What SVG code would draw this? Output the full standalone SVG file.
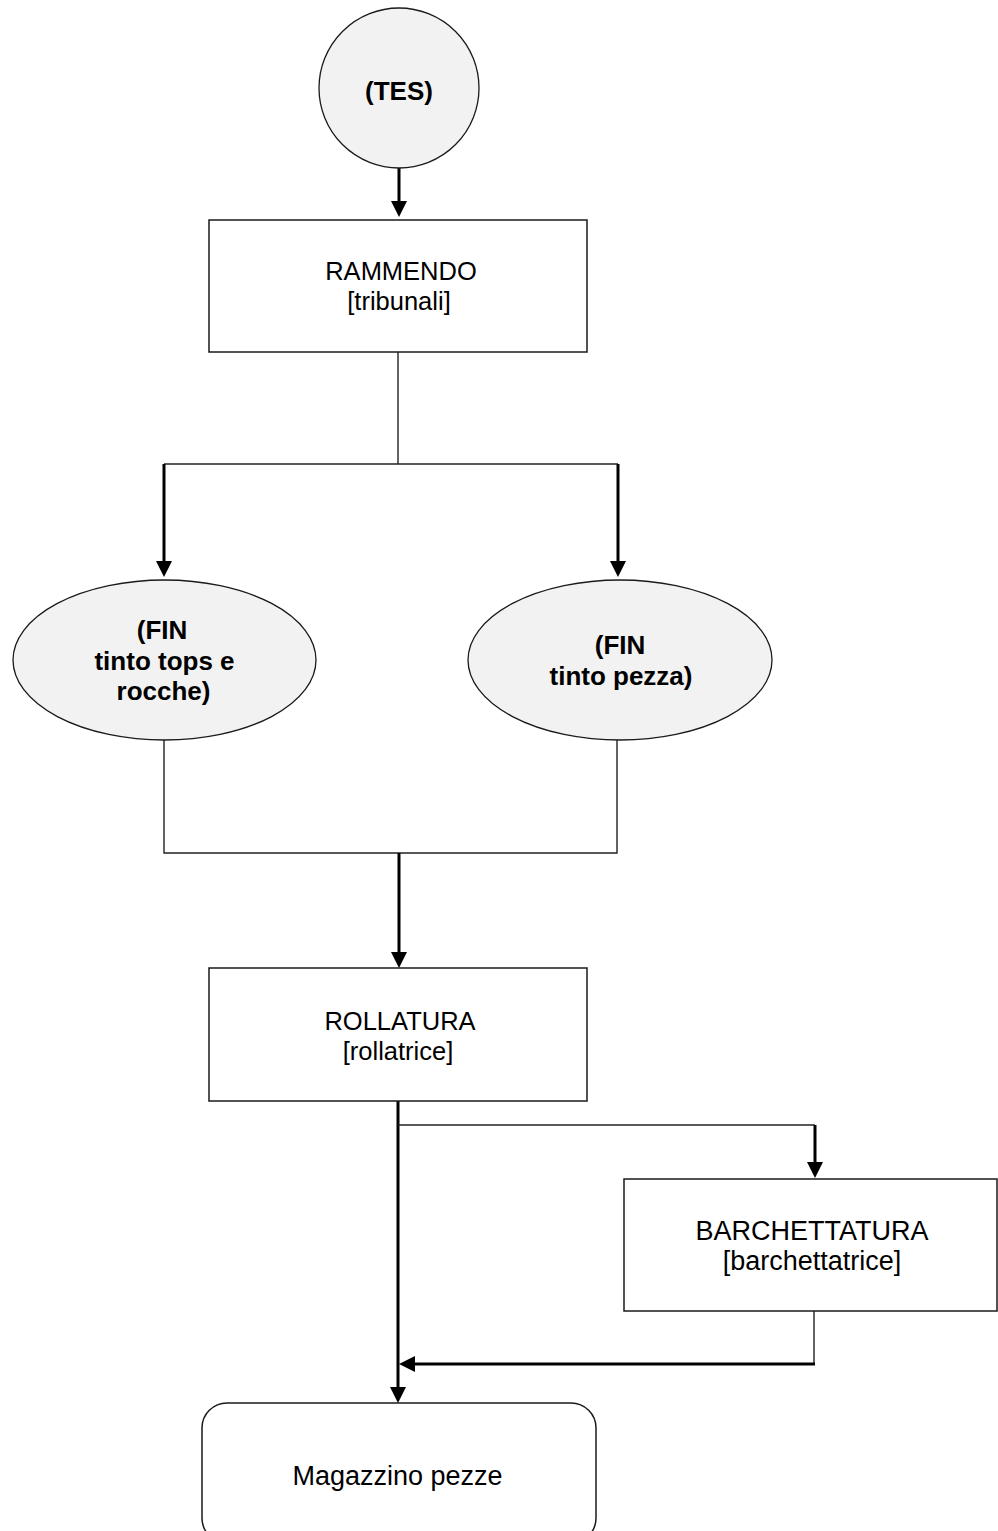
<svg xmlns="http://www.w3.org/2000/svg" width="998" height="1531" viewBox="0 0 998 1531">
  <style>
    .box { fill: #ffffff; stroke: #1a1a1a; stroke-width: 1.5; }
    .term { fill: #f2f2f2; stroke: #1a1a1a; stroke-width: 1.3; }
    .t { font-family: "Liberation Sans", Arial, sans-serif; font-size: 25.5px; fill: #000; text-anchor: middle; }
    .tl { font-size: 27px; }
    .b { font-family: "Liberation Sans", Arial, sans-serif; font-size: 26px; font-weight: bold; fill: #000; text-anchor: middle; }
    .thin { fill: none; stroke: #222; stroke-width: 1.4; }
    .thick { fill: none; stroke: #000; stroke-width: 3; }
  </style>
  <defs>
    <marker id="arr" markerUnits="userSpaceOnUse" markerWidth="16" markerHeight="16" viewBox="0 0 16 16" refX="8" refY="8" orient="auto">
      <path d="M0,0 L16,8 L0,16 Z" fill="#000"/>
    </marker>
  </defs>
  <rect x="0" y="0" width="998" height="1531" fill="#ffffff"/>

  <g id="connectors">
    <path class="thick" d="M399,168 L399,209" marker-end="url(#arr)"/>
    <path class="thin" d="M398,352 L398,464"/>
    <path class="thin" d="M164,464 L618,464"/>
    <path class="thick" d="M164,464 L164,569" marker-end="url(#arr)"/>
    <path class="thick" d="M618,464 L618,569" marker-end="url(#arr)"/>
    <path class="thin" d="M164,740 L164,853 L617,853 L617,740"/>
    <path class="thick" d="M399,853 L399,960" marker-end="url(#arr)"/>
    <path class="thick" d="M398,1101 L398,1395" marker-end="url(#arr)"/>
    <path class="thin" d="M398,1125 L815,1125"/>
    <path class="thick" d="M815,1125 L815,1170" marker-end="url(#arr)"/>
    <path class="thin" d="M814,1311 L814,1364"/>
    <path class="thick" d="M815,1364 L407,1364" marker-end="url(#arr)"/>
  </g>

  <g id="node-tes">
    <circle class="term" cx="399" cy="88" r="80"/>
    <text class="b" x="399" y="100">(TES)</text>
  </g>

  <g id="node-rammendo">
    <rect class="box" x="209" y="220" width="378" height="132"/>
    <text class="t" x="401" y="280">RAMMENDO</text>
    <text class="t" x="399" y="310">[tribunali]</text>
  </g>

  <g id="node-fin-tops">
    <ellipse class="term" cx="164.5" cy="660" rx="151.5" ry="80"/>
    <text class="b" x="162" y="639">(FIN</text>
    <text class="b" x="164.5" y="670">tinto tops e</text>
    <text class="b" x="163.5" y="700">rocche)</text>
  </g>

  <g id="node-fin-pezza">
    <ellipse class="term" cx="620" cy="660" rx="152" ry="80"/>
    <text class="b" x="620" y="654">(FIN</text>
    <text class="b" x="621" y="685">tinto pezza)</text>
  </g>

  <g id="node-rollatura">
    <rect class="box" x="209" y="968" width="378" height="133"/>
    <text class="t" x="400" y="1030">ROLLATURA</text>
    <text class="t" x="398" y="1060">[rollatrice]</text>
  </g>

  <g id="node-barchettatura">
    <rect class="box" x="624" y="1179" width="373" height="132"/>
    <text class="t tl" x="812" y="1240">BARCHETTATURA</text>
    <text class="t tl" x="812" y="1270">[barchettatrice]</text>
  </g>

  <g id="node-magazzino">
    <rect class="box" x="202" y="1403" width="394" height="140" rx="25" ry="25"/>
    <text class="t tl" x="397.5" y="1485">Magazzino pezze</text>
  </g>
</svg>
